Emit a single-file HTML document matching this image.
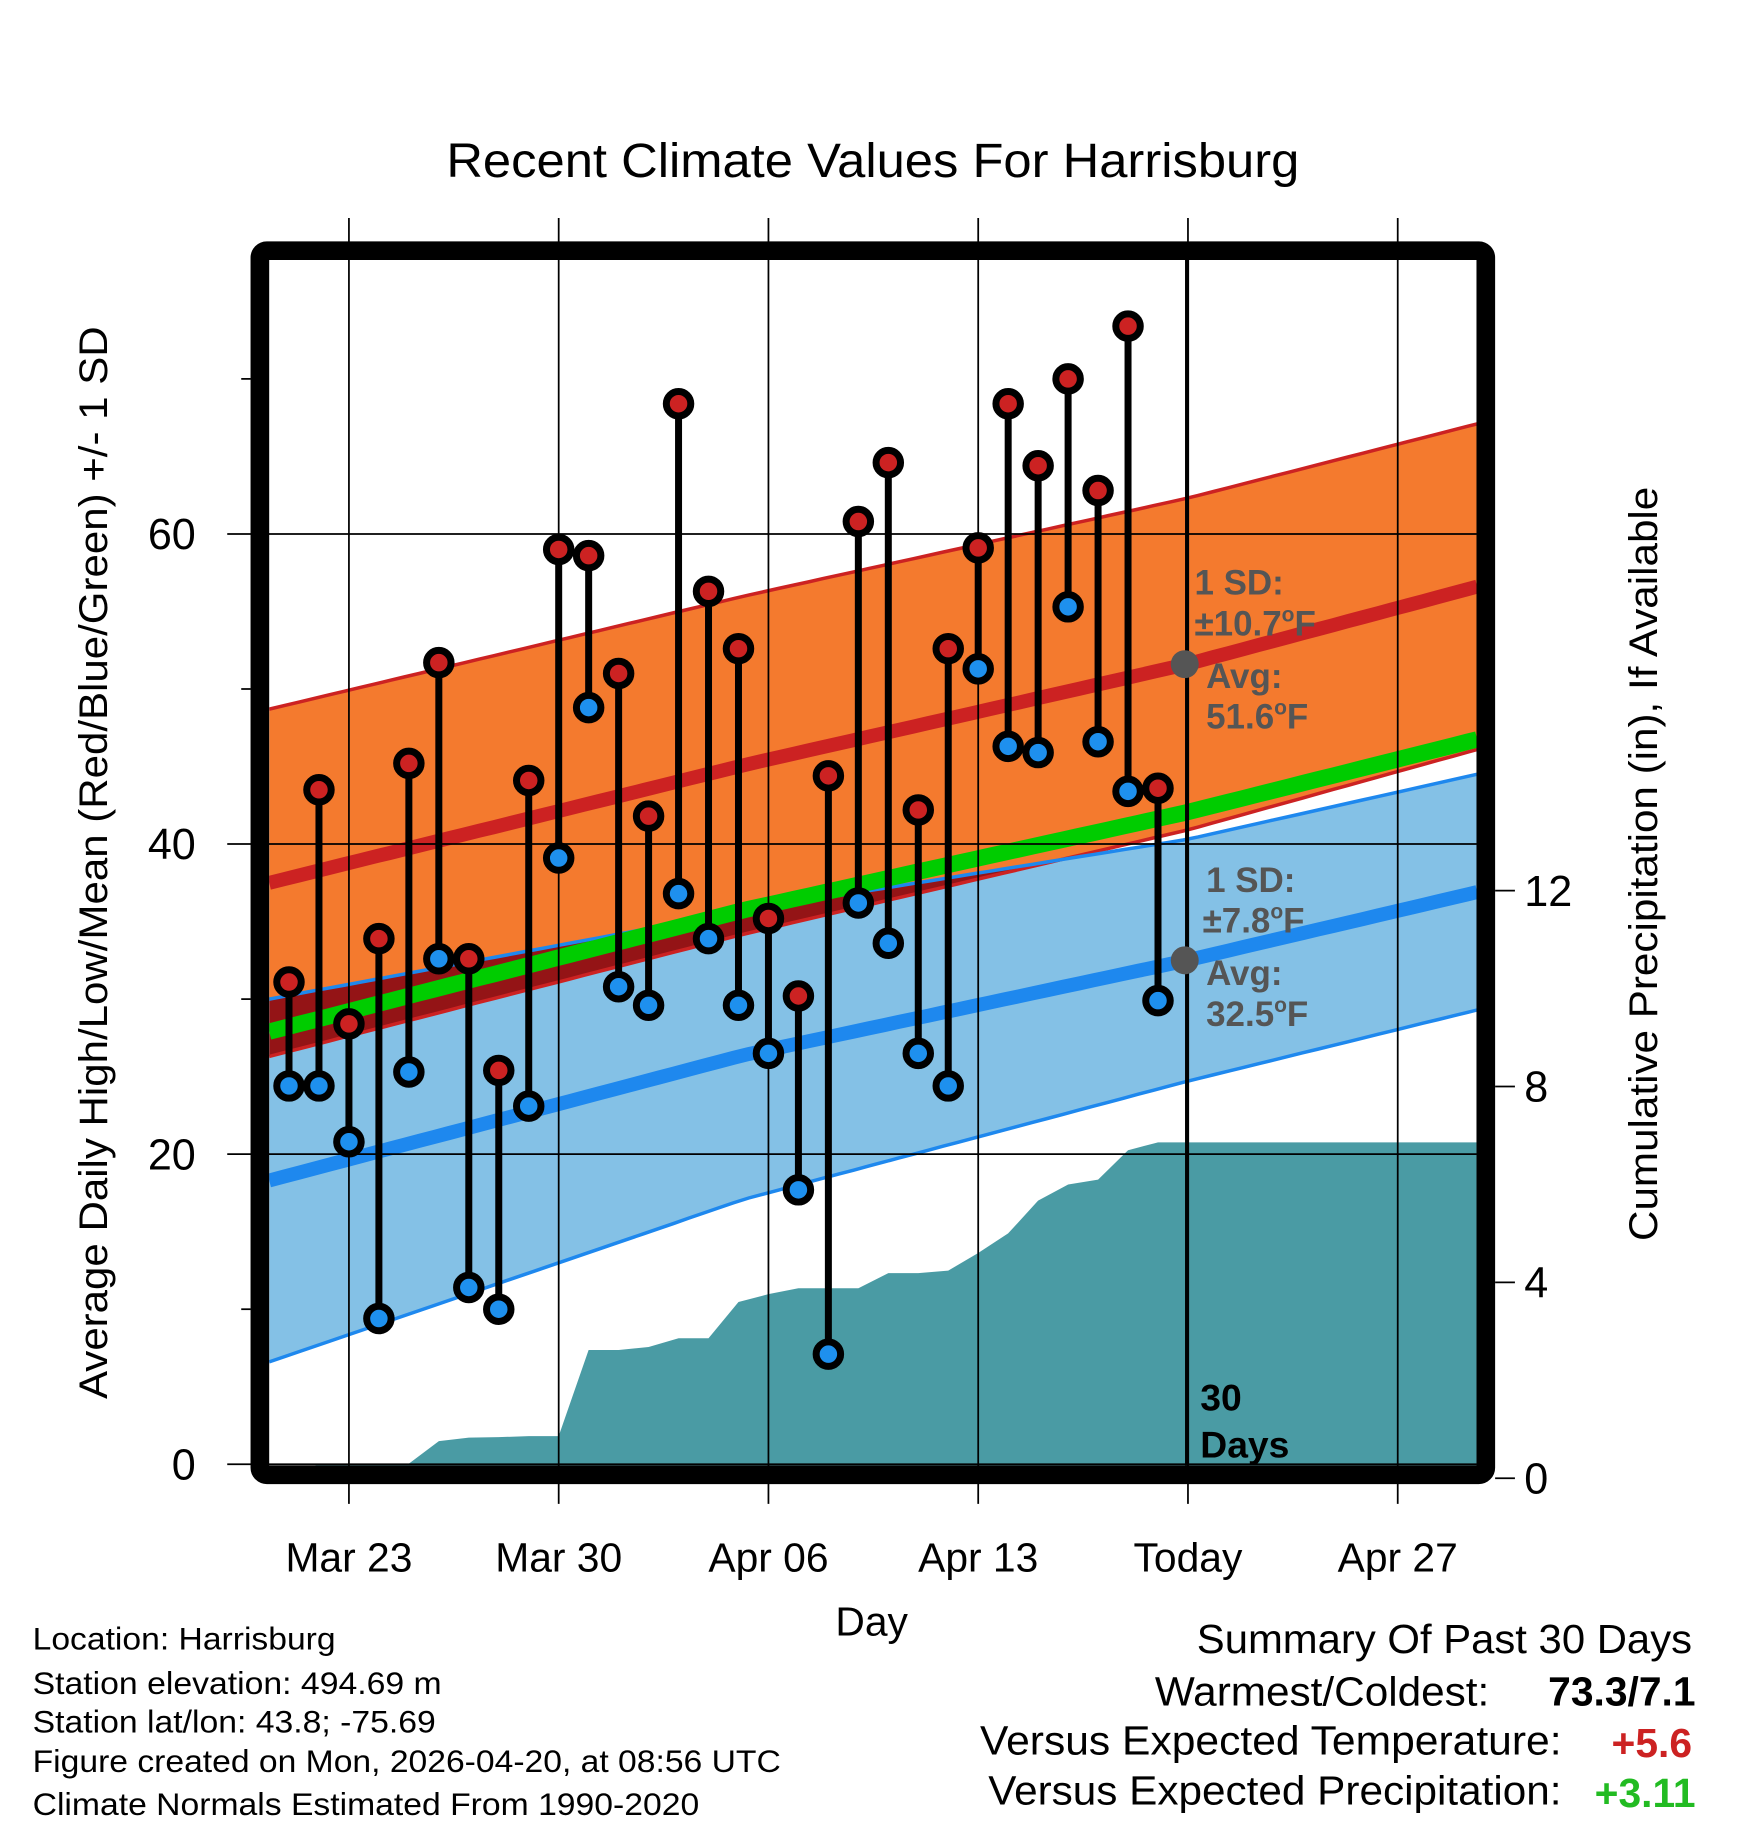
<!DOCTYPE html>
<html><head><meta charset="utf-8"><style>
html,body{margin:0;padding:0;background:#fff}
svg{display:block}
text{font-family:"Liberation Sans",sans-serif}
</style></head><body>
<svg id="chart" width="1748" height="1828" viewBox="0 0 1500 1568" preserveAspectRatio="none" xmlns="http://www.w3.org/2000/svg">
<defs>
<clipPath id="plotclip"><rect x="231" y="223" width="1036" height="1034"/></clipPath>
<clipPath id="blueclip"><path id="blueclippath" d=""/></clipPath>
</defs>
<text x="383" y="152" font-size="41" textLength="732" lengthAdjust="spacingAndGlyphs">Recent Climate Values For Harrisburg</text>
<g id="fills" clip-path="url(#plotclip)"></g>
<g id="grid"></g>
<g id="marks"></g>
<rect x="223" y="215" width="1052" height="1050" rx="6" fill="none" stroke="#000" stroke-width="16"/>
<g id="axes"></g>
<g font-weight="bold" font-size="30" fill="#555">
<text x="1025" y="510">1 SD:</text>
<text x="1025" y="545">±10.7<tspan font-size="18" dy="-12">o</tspan><tspan dy="12">F</tspan></text>
<text x="1035" y="590">Avg:</text>
<text x="1035" y="625">51.6<tspan font-size="18" dy="-12">o</tspan><tspan dy="12">F</tspan></text>
<text x="1035" y="765">1 SD:</text>
<text x="1032" y="800">±7.8<tspan font-size="18" dy="-12">o</tspan><tspan dy="12">F</tspan></text>
<text x="1035" y="845">Avg:</text>
<text x="1035" y="880">32.5<tspan font-size="18" dy="-12">o</tspan><tspan dy="12">F</tspan></text>
</g>
<g font-weight="bold" font-size="32" fill="#000">
<text x="1030" y="1210">30</text><text x="1030" y="1250">Days</text>
</g>
<text x="748" y="1403" font-size="35" text-anchor="middle">Day</text>
<text transform="translate(92,740) rotate(-90)" font-size="34" text-anchor="middle" textLength="920" lengthAdjust="spacingAndGlyphs">Average Daily High/Low/Mean (Red/Blue/Green) +/- 1 SD</text>
<text transform="translate(1422,741) rotate(-90)" font-size="34" text-anchor="middle" textLength="647" lengthAdjust="spacingAndGlyphs">Cumulative Precipitation (in), If Available</text>
<g font-size="27">
<text x="28" y="1415" textLength="260" lengthAdjust="spacingAndGlyphs">Location: Harrisburg</text>
<text x="28" y="1453" textLength="351" lengthAdjust="spacingAndGlyphs">Station elevation: 494.69 m</text>
<text x="28" y="1486" textLength="346" lengthAdjust="spacingAndGlyphs">Station lat/lon: 43.8; -75.69</text>
<text x="28" y="1520" textLength="642" lengthAdjust="spacingAndGlyphs">Figure created on Mon, 2026-04-20, at 08:56 UTC</text>
<text x="28" y="1557" textLength="572" lengthAdjust="spacingAndGlyphs">Climate Normals Estimated From 1990-2020</text>
</g>
<g font-size="35">
<text x="1027" y="1418" textLength="425" lengthAdjust="spacingAndGlyphs">Summary Of Past 30 Days</text>
<text x="991" y="1463" textLength="287" lengthAdjust="spacingAndGlyphs">Warmest/Coldest:</text>
<text x="1455" y="1463" text-anchor="end" font-weight="bold">73.3/7.1</text>
<text x="841" y="1505" textLength="499" lengthAdjust="spacingAndGlyphs">Versus Expected Temperature:</text>
<text x="1452" y="1507" text-anchor="end" font-weight="bold" fill="#cc2222">+5.6</text>
<text x="848" y="1548" textLength="492" lengthAdjust="spacingAndGlyphs">Versus Expected Precipitation:</text>
<text x="1455" y="1550" text-anchor="end" font-weight="bold" fill="#22bb22">+3.11</text>
</g>
</svg>
<script>
const highs=[31.1,43.5,28.4,33.9,45.2,51.7,32.6,25.4,44.1,59.0,58.6,51.0,41.8,68.4,56.3,52.6,35.2,30.2,44.4,60.8,64.6,42.2,52.6,59.1,68.4,64.4,70.0,62.8,73.4,43.6];
const lows=[24.4,24.4,20.8,9.4,25.3,32.6,11.4,10.0,23.1,39.1,48.8,30.8,29.6,36.8,33.9,29.6,26.5,17.7,7.1,36.2,33.6,26.5,24.4,51.3,46.3,45.9,55.3,46.6,43.4,29.9];
const precip=[0,0.3,0.3,0.3,0.3,0.76,0.83,0.84,0.86,0.86,2.62,2.62,2.68,2.86,2.86,3.6,3.76,3.88,3.88,3.88,4.19,4.19,4.24,4.6,5.0,5.67,6.0,6.1,6.7,6.86];
const normDays=[-0.66,15.2,29.97,39.65];
const normHigh=[37.5,45.1,51.6,56.6];
const normLow=[18.3,26.4,32.5,36.9];
const sdHigh=[11.2,10.9,10.7,10.5];
const sdLow=[11.7,9.3,7.8,7.6];
const xTickDays=[2,9,16,23,30,37];
const xTickLabels=["Mar 23","Mar 30","Apr 06","Apr 13","Today","Apr 27"];
const yTicks=[0,20,40,60];
const y2Ticks=[0,4,8,12];

const NS="http://www.w3.org/2000/svg";
const X=d=>248+d*25.714;
const Y=v=>1256-v*13.3;
const Y2=v=>1268-v*42;
function mk(parent,tag,attrs){const e=document.createElementNS(NS,tag);for(const k in attrs)e.setAttribute(k,attrs[k]);document.getElementById(parent).appendChild(e);return e;}
function interp(arr,d){for(let i=0;i<normDays.length-1;i++){if(d<=normDays[i+1]||i==normDays.length-2){const t=(d-normDays[i])/(normDays[i+1]-normDays[i]);return arr[i]+t*(arr[i+1]-arr[i]);}}}
const samples=[];for(let d=normDays[0];d<normDays[3];d+=0.5)samples.push(d);samples.push(normDays[3]);
const line=f=>samples.map((d,i)=>(i?'L':'M')+X(d).toFixed(1)+','+f(d).toFixed(1)).join('');
const band=(f1,f2)=>line(f1)+samples.slice().reverse().map(d=>'L'+X(d).toFixed(1)+','+f2(d).toFixed(1)).join('')+'Z';
const hU=d=>Y(interp(normHigh,d)+interp(sdHigh,d)),hL=d=>Y(interp(normHigh,d)-interp(sdHigh,d));
const lU=d=>Y(interp(normLow,d)+interp(sdLow,d)),lL=d=>Y(interp(normLow,d)-interp(sdLow,d));
let pd='M231,'+Y2(precip[0])+'L'+X(0)+','+Y2(precip[0]);
precip.forEach((v,i)=>{pd+='L'+X(i).toFixed(1)+','+Y2(v).toFixed(1);});
pd+='L1267,'+Y2(precip[precip.length-1])+'L1267,1268L231,1268Z';
let e;
e=mk('fills','path',{d:pd,fill:'#4a9ba4'});


e=mk('fills','path',{d:band(hU,hL),fill:'#f47a2e'});


e=mk('fills','path',{d:band(lU,lL),fill:'#84c1e6'});


document.getElementById('blueclippath').setAttribute('d',band(lU,lL));
e=mk('fills','path',{d:band(hU,hL),fill:'#941416','clip-path':'url(#blueclip)'});


e=mk('fills','path',{d:line(hU),fill:'none',stroke:'#cc2222','stroke-width':3});


e=mk('fills','path',{d:line(hL),fill:'none',stroke:'#cc2222','stroke-width':3});


e=mk('fills','path',{d:line(lU),fill:'none',stroke:'#1e88ee','stroke-width':3});


e=mk('fills','path',{d:line(lL),fill:'none',stroke:'#1e88ee','stroke-width':3});


e=mk('fills','path',{d:line(d=>Y(interp(normHigh,d))),fill:'none',stroke:'#cc2222','stroke-width':12});


e=mk('fills','path',{d:line(d=>Y(interp(normLow,d))),fill:'none',stroke:'#1e88ee','stroke-width':12});


e=mk('fills','path',{d:line(d=>Y((interp(normHigh,d)+interp(normLow,d))/2)),fill:'none',stroke:'#00cc00','stroke-width':14});


xTickDays.forEach((d,i)=>{
 e=mk('grid','line',{x1:X(d),x2:X(d),y1:187,y2:1290,stroke:'#000','stroke-width':1.5});
 
 
 e=mk('axes','text',{x:X(d),y:1348,'font-size':35,'text-anchor':'middle'});
 e.textContent=xTickLabels[i];
 
 
});
yTicks.forEach(v=>{
 e=mk('grid','line',{x1:195,x2:1267,y1:Y(v),y2:Y(v),stroke:'#000','stroke-width':1.5});
 
 
 e=mk('axes','text',{x:168,y:Y(v)+13,'font-size':37,'text-anchor':'end'});
 e.textContent=v;
 
 
});
[10,30,50,70].forEach(v=>{
 e=mk('axes','line',{x1:207,x2:215,y1:Y(v),y2:Y(v),stroke:'#000','stroke-width':1.5});
 
 
});
y2Ticks.forEach(v=>{
 e=mk('axes','line',{x1:1283,x2:1300,y1:Y2(v),y2:Y2(v),stroke:'#000','stroke-width':1.5});
 
 
 e=mk('axes','text',{x:1308,y:Y2(v)+13,'font-size':37});
 e.textContent=v;
 
 
});
e=mk('grid','line',{x1:X(29.97),x2:X(29.97),y1:223,y2:1257,stroke:'#000','stroke-width':3.5});


highs.forEach((h,i)=>{
 e=mk('marks','line',{x1:X(i),x2:X(i),y1:Y(h),y2:Y(lows[i]),stroke:'#000','stroke-width':6});
 
 
 e=mk('marks','circle',{cx:X(i),cy:Y(h),r:10.5,fill:'#cc2222',stroke:'#000','stroke-width':6});
 
 
 e=mk('marks','circle',{cx:X(i),cy:Y(lows[i]),r:10.5,fill:'#1e90ee',stroke:'#000','stroke-width':6});
 
 
});
e=mk('marks','circle',{cx:X(29.97)-2,cy:Y(normHigh[2]),r:12,fill:'#555'});


e=mk('marks','circle',{cx:X(29.97)-2,cy:Y(normLow[2]),r:12,fill:'#555'});


</script>
</body></html>
